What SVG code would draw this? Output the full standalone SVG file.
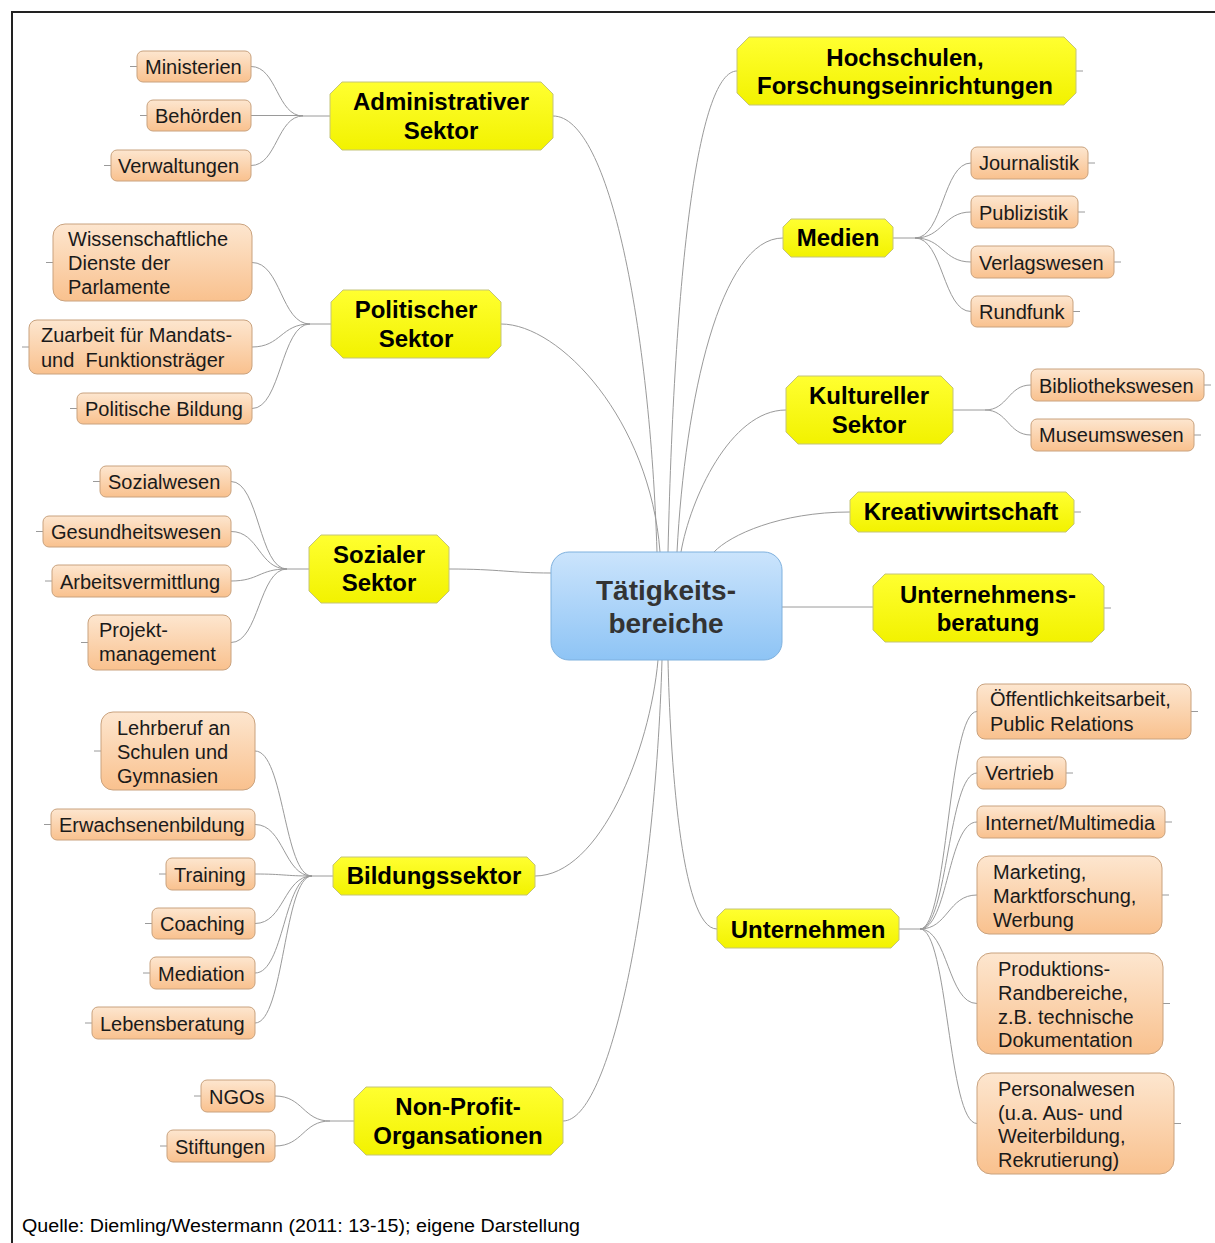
<svg xmlns="http://www.w3.org/2000/svg" width="1215" height="1243" viewBox="0 0 1215 1243">
<defs>
<linearGradient id="gy" x1="0" y1="0" x2="0" y2="1"><stop offset="0" stop-color="#ffff30"/><stop offset="1" stop-color="#f2f200"/></linearGradient>
<linearGradient id="go" x1="0" y1="0" x2="0" y2="1"><stop offset="0" stop-color="#fde6cf"/><stop offset="1" stop-color="#f9c18e"/></linearGradient>
<linearGradient id="gb" x1="0" y1="0" x2="0" y2="1"><stop offset="0" stop-color="#cbe4fc"/><stop offset="1" stop-color="#8ec4f5"/></linearGradient>
</defs>
<style>
.y{fill:url(#gy);stroke:#c4c47a;stroke-width:1}
.o{fill:url(#go);stroke:#c9a27e;stroke-width:1}
.ty{font-family:"Liberation Sans",Arial,sans-serif;font-weight:bold;font-size:24px;fill:#000;text-anchor:middle}
.to{font-family:"Liberation Sans",Arial,sans-serif;font-size:20px;fill:#1a1a1a}
.c{fill:none;stroke:#9a9a9a;stroke-width:1}
</style>
<rect width="1215" height="1243" fill="#fff"/>
<path d="M12,1243 V12 H1215" fill="none" stroke="#222" stroke-width="2"/>
<g id="connectors" class="c">
<path d="M553,116 C610,116 650,330 657,552"/>
<path d="M737,71 C700,71 675,250 668,552"/>
<path d="M501,324 C560,324 650,420 660,552"/>
<path d="M783,238 C720,238 685,400 677,552"/>
<path d="M786,410 C730,410 690,500 681,552"/>
<path d="M850,512 C780,512 730,535 714,552"/>
<path d="M449,569 C500,569 510,573 551,573"/>
<path d="M782,607 L873,607"/>
<path d="M535,876 C600,876 650,750 658,660"/>
<path d="M563,1121 C610,1121 655,900 662,660"/>
<path d="M717,929 C680,929 670,750 668,660"/>
<path d="M303,116 H330 M251,66.5 C277,66.5 277,116 303,116 M251,115.5 H303 M251,165.5 C277,165.5 277,116 303,116"/>
<path d="M310,324 H331 M252,262.5 C281,262.5 281,324 310,324 M252,347 C281,347 281,324 310,324 M252,408.5 C281,408.5 281,324 310,324"/>
<path d="M287,569 H309 M231,481.5 C259,481.5 259,569 287,569 M231,531.5 C259,531.5 259,569 287,569 M231,581 C259,581 259,569 287,569 M231,642.5 C259,642.5 259,569 287,569"/>
<path d="M312,876 H333 M255,751 C284,751 284,876 312,876 M255,824.5 C284,824.5 284,876 312,876 M255,874 C284,874 284,876 312,876 M255,923.5 C284,923.5 284,876 312,876 M255,973 C284,973 284,876 312,876 M255,1023 C284,1023 284,876 312,876"/>
<path d="M330,1121 H354 M275,1096 C303,1096 303,1121 330,1121 M275,1146 C303,1146 303,1121 330,1121"/>
<path d="M893,238 H915 M971,163 C943,163 943,238 915,238 M971,212 C943,212 943,238 915,238 M971,262 C943,262 943,238 915,238 M971,311.5 C943,311.5 943,238 915,238"/>
<path d="M953,410 H985 M1031,385 C1008,385 1008,410 985,410 M1031,435 C1008,435 1008,410 985,410"/>
<path d="M899,929 H920 M977,711.5 C948,711.5 948,929 920,929 M977,773 C948,773 948,929 920,929 M977,822 C948,822 948,929 920,929 M977,895 C948,895 948,929 920,929 M977,1003.5 C948,1003.5 948,929 920,929 M977,1123.5 C948,1123.5 948,929 920,929"/>
<path d="M130,66.5 H137 M140,115.5 H147 M104,165.5 H111 M46,262.5 H53 M22,347 H29 M70,408.5 H77 M93,481.5 H100 M36,531.5 H43 M45,581 H52 M81,642.5 H88 M94,751 H101 M44,824.5 H51 M159,874 H166 M145,923.5 H152 M143,973 H150 M85,1023 H92 M194,1096 H201 M160,1146 H167"/>
<path d="M1088,163 H1095 M1078,212 H1085 M1114,262 H1121 M1073,311.5 H1080 M1204,385 H1211 M1194,435 H1201 M1191,711.5 H1198 M1066,773 H1073 M1165,822 H1172 M1162,895 H1169 M1163,1003.5 H1170 M1174,1123.5 H1181 M1076,71 H1083 M1074,512 H1081 M1104,608 H1111"/>
</g>
<g id="center">
<rect x="551" y="552" width="231" height="108" rx="18" fill="url(#gb)" stroke="#7fb1de" stroke-width="1"/>
<text x="666" y="600" style="font-family:'Liberation Sans',Arial,sans-serif;font-weight:bold;font-size:28px;fill:#333;text-anchor:middle">Tätigkeits-</text>
<text x="666" y="633" style="font-family:'Liberation Sans',Arial,sans-serif;font-weight:bold;font-size:28px;fill:#333;text-anchor:middle">bereiche</text>
</g>
<g id="n-admin"><path class="y" d="M342,82 H541 L553,94 V138 L541,150 H342 L330,138 V94 Z"/><text class="ty" x="441" y="110">Administrativer</text><text class="ty" x="441" y="139">Sektor</text></g>
<g id="n-pol"><path class="y" d="M343,290 H489 L501,302 V346 L489,358 H343 L331,346 V302 Z"/><text class="ty" x="416" y="318">Politischer</text><text class="ty" x="416" y="347">Sektor</text></g>
<g id="n-soz"><path class="y" d="M321,535 H437 L449,547 V591 L437,603 H321 L309,591 V547 Z"/><text class="ty" x="379" y="563">Sozialer</text><text class="ty" x="379" y="591">Sektor</text></g>
<g id="n-bild"><path class="y" d="M341,857 H527 L535,865 V887 L527,895 H341 L333,887 V865 Z"/><text class="ty" x="434" y="884">Bildungssektor</text></g>
<g id="n-npo"><path class="y" d="M366,1087 H551 L563,1099 V1143 L551,1155 H366 L354,1143 V1099 Z"/><text class="ty" x="458" y="1115">Non-Profit-</text><text class="ty" x="458" y="1144">Organsationen</text></g>
<g id="n-hoch"><path class="y" d="M749,37 H1064 L1076,49 V93 L1064,105 H749 L737,93 V49 Z"/><text class="ty" x="905" y="66">Hochschulen,</text><text class="ty" x="905" y="94">Forschungseinrichtungen</text></g>
<g id="n-medien"><path class="y" d="M791,219 H885 L893,227 V249 L885,257 H791 L783,249 V227 Z"/><text class="ty" x="838" y="246">Medien</text></g>
<g id="n-kult"><path class="y" d="M798,376 H941 L953,388 V432 L941,444 H798 L786,432 V388 Z"/><text class="ty" x="869" y="404">Kultureller</text><text class="ty" x="869" y="433">Sektor</text></g>
<g id="n-krea"><path class="y" d="M858,492 H1066 L1074,500 V524 L1066,532 H858 L850,524 V500 Z"/><text class="ty" x="961" y="520">Kreativwirtschaft</text></g>
<g id="n-ub"><path class="y" d="M885,574 H1092 L1104,586 V630 L1092,642 H885 L873,630 V586 Z"/><text class="ty" x="988" y="603">Unternehmens-</text><text class="ty" x="988" y="631">beratung</text></g>
<g id="n-unt"><path class="y" d="M725,909 H891 L899,917 V940 L891,948 H725 L717,940 V917 Z"/><text class="ty" x="808" y="938">Unternehmen</text></g>
<g id="l-min"><rect class="o" x="137" y="51" width="114" height="31" rx="6"/><text class="to" x="145" y="74">Ministerien</text></g>
<g id="l-beh"><rect class="o" x="147" y="100" width="104" height="31" rx="6"/><text class="to" x="155" y="123">Behörden</text></g>
<g id="l-verw"><rect class="o" x="111" y="150" width="140" height="31" rx="6"/><text class="to" x="118" y="173">Verwaltungen</text></g>
<g id="l-wiss"><rect class="o" x="53" y="224" width="199" height="77" rx="12"/><text class="to" x="68" y="246">Wissenschaftliche</text><text class="to" x="68" y="270">Dienste der</text><text class="to" x="68" y="294">Parlamente</text></g>
<g id="l-zu"><rect class="o" x="29" y="320" width="223" height="54" rx="8"/><text class="to" x="41" y="342">Zuarbeit für Mandats-</text><text class="to" x="41" y="367" xml:space="preserve">und  Funktionsträger</text></g>
<g id="l-polb"><rect class="o" x="77" y="393" width="175" height="31" rx="6"/><text class="to" x="85" y="416">Politische Bildung</text></g>
<g id="l-sozw"><rect class="o" x="100" y="466" width="131" height="31" rx="6"/><text class="to" x="108" y="489">Sozialwesen</text></g>
<g id="l-ges"><rect class="o" x="43" y="516" width="188" height="31" rx="6"/><text class="to" x="51" y="539">Gesundheitswesen</text></g>
<g id="l-arb"><rect class="o" x="52" y="565" width="179" height="32" rx="6"/><text class="to" x="60" y="589">Arbeitsvermittlung</text></g>
<g id="l-proj"><rect class="o" x="88" y="615" width="143" height="55" rx="8"/><text class="to" x="99" y="637">Projekt-</text><text class="to" x="99" y="661">management</text></g>
<g id="l-lehr"><rect class="o" x="101" y="712" width="154" height="78" rx="12"/><text class="to" x="117" y="735">Lehrberuf an</text><text class="to" x="117" y="759">Schulen und</text><text class="to" x="117" y="783">Gymnasien</text></g>
<g id="l-erw"><rect class="o" x="51" y="809" width="204" height="31" rx="6"/><text class="to" x="59" y="832">Erwachsenenbildung</text></g>
<g id="l-train"><rect class="o" x="166" y="858" width="89" height="32" rx="6"/><text class="to" x="174" y="882">Training</text></g>
<g id="l-coach"><rect class="o" x="152" y="908" width="103" height="31" rx="6"/><text class="to" x="160" y="931">Coaching</text></g>
<g id="l-med"><rect class="o" x="150" y="957" width="105" height="32" rx="6"/><text class="to" x="158" y="981">Mediation</text></g>
<g id="l-leb"><rect class="o" x="92" y="1007" width="163" height="32" rx="6"/><text class="to" x="100" y="1031">Lebensberatung</text></g>
<g id="l-ngo"><rect class="o" x="201" y="1080" width="74" height="32" rx="6"/><text class="to" x="209" y="1104">NGOs</text></g>
<g id="l-stift"><rect class="o" x="167" y="1130" width="108" height="32" rx="6"/><text class="to" x="175" y="1154">Stiftungen</text></g>
<g id="r-jour"><rect class="o" x="971" y="147" width="117" height="32" rx="6"/><text class="to" x="979" y="170">Journalistik</text></g>
<g id="r-pub"><rect class="o" x="971" y="196" width="107" height="32" rx="6"/><text class="to" x="979" y="220">Publizistik</text></g>
<g id="r-verl"><rect class="o" x="971" y="246" width="143" height="32" rx="6"/><text class="to" x="979" y="270">Verlagswesen</text></g>
<g id="r-rund"><rect class="o" x="971" y="296" width="102" height="31" rx="6"/><text class="to" x="979" y="319">Rundfunk</text></g>
<g id="r-bib"><rect class="o" x="1031" y="369" width="173" height="32" rx="6"/><text class="to" x="1039" y="393">Bibliothekswesen</text></g>
<g id="r-mus"><rect class="o" x="1031" y="419" width="163" height="32" rx="6"/><text class="to" x="1039" y="442">Museumswesen</text></g>
<g id="r-oeff"><rect class="o" x="977" y="684" width="214" height="55" rx="8"/><text class="to" x="990" y="706">Öffentlichkeitsarbeit,</text><text class="to" x="990" y="731">Public Relations</text></g>
<g id="r-vert"><rect class="o" x="977" y="757" width="89" height="32" rx="6"/><text class="to" x="985" y="780">Vertrieb</text></g>
<g id="r-int"><rect class="o" x="977" y="806" width="188" height="32" rx="6"/><text class="to" x="985" y="830">Internet/Multimedia</text></g>
<g id="r-mark"><rect class="o" x="977" y="856" width="185" height="78" rx="12"/><text class="to" x="993" y="879">Marketing,</text><text class="to" x="993" y="903">Marktforschung,</text><text class="to" x="993" y="927">Werbung</text></g>
<g id="r-prod"><rect class="o" x="977" y="953" width="186" height="101" rx="14"/><text class="to" x="998" y="976">Produktions-</text><text class="to" x="998" y="1000">Randbereiche,</text><text class="to" x="998" y="1024">z.B. technische</text><text class="to" x="998" y="1047">Dokumentation</text></g>
<g id="r-pers"><rect class="o" x="977" y="1073" width="197" height="101" rx="14"/><text class="to" x="998" y="1096">Personalwesen</text><text class="to" x="998" y="1120">(u.a. Aus- und</text><text class="to" x="998" y="1143">Weiterbildung,</text><text class="to" x="998" y="1167">Rekrutierung)</text></g>
<text x="22" y="1232" textLength="558" lengthAdjust="spacingAndGlyphs" style="font-family:'Liberation Sans',Arial,sans-serif;font-size:18px;fill:#000">Quelle: Diemling/Westermann (2011: 13-15); eigene Darstellung</text>
</svg>
